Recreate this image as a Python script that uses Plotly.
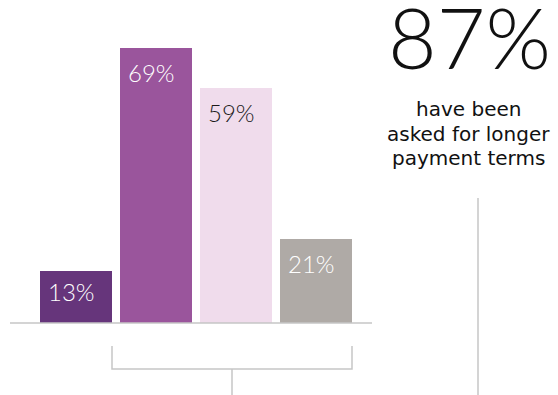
import plotly.graph_objects as go

# Survey breakdown
categories = ["A", "B", "C", "D"]
values = [13, 69, 59, 21]
labels = ["13%", "69%", "59%", "21%"]
bar_colors = ["#66357b", "#9a559c", "#f0dcec", "#afaaa6"]
label_colors = ["#ffffff", "#ffffff", "#1a1a1a", "#ffffff"]

headline = "87%"
caption_lines = ["have been", "asked for longer", "payment terms"]

W, H = 558, 395
PX_PER_UNIT_Y = 3.98
BASE_PX = 323            # baseline distance from top
X_STEP = 80              # px between bar centres
X0_PX = 76               # px of first bar centre

x_idx = list(range(len(categories)))
x_lo = -X0_PX / X_STEP
x_hi = x_lo + W / X_STEP
y_lo = -(H - BASE_PX) / PX_PER_UNIT_Y
y_hi = BASE_PX / PX_PER_UNIT_Y

FONT = "Lato"
CAPTION_FONT = "DejaVu Sans"
LINE = "#c6c6c6"

fig = go.Figure(
    go.Bar(
        x=x_idx,
        y=values,
        width=0.9,
        marker=dict(color=bar_colors, line=dict(width=0)),
        hoverinfo="skip",
    )
)

annotations = []
for i, (v, t, c) in enumerate(zip(values, labels, label_colors)):
    shift = -min(24, v * PX_PER_UNIT_Y * 0.4)
    annotations.append(dict(
        x=i - 0.45, y=v, xref="x", yref="y", text=t, showarrow=False,
        xanchor="left", yanchor="middle", xshift=6, yshift=shift,
        font=dict(family=FONT, size=24, color=c, weight=300),
    ))

annotations.append(dict(
    x=469 / W, y=1 - 36 / H, xref="paper", yref="paper", text=headline,
    showarrow=False, xanchor="center", yanchor="middle",
    font=dict(family=FONT, size=84, color="#111111", weight=300),
))
for k, line in enumerate(caption_lines):
    annotations.append(dict(
        x=468 / W, y=1 - (109 + 24.5 * k) / H, xref="paper", yref="paper",
        text=line, showarrow=False, xanchor="center", yanchor="middle",
        borderpad=0,
        font=dict(family=CAPTION_FONT, size=20, color="#111111"),
    ))

shapes = [
    # baseline
    dict(type="line", xref="paper", yref="y", x0=10 / W, x1=372 / W, y0=0, y1=0,
         line=dict(color=LINE, width=1.5)),
    # bracket under bars B-D
    dict(type="path", xref="x", yref="y",
         path=f"M 0.45 {-23 / PX_PER_UNIT_Y} L 0.45 {-46 / PX_PER_UNIT_Y} "
              f"L 3.45 {-46 / PX_PER_UNIT_Y} L 3.45 {-23 / PX_PER_UNIT_Y}",
         line=dict(color=LINE, width=1.5)),
    dict(type="line", xref="x", yref="y", x0=1.95, x1=1.95,
         y0=-46 / PX_PER_UNIT_Y, y1=y_lo,
         line=dict(color=LINE, width=1.5)),
    # divider under the headline
    dict(type="line", xref="x", yref="y", x0=(478 - X0_PX) / X_STEP, x1=(478 - X0_PX) / X_STEP,
         y0=(BASE_PX - 198) / PX_PER_UNIT_Y, y1=y_lo,
         line=dict(color=LINE, width=1.5)),
]

fig.update_layout(
    width=W, height=H,
    margin=dict(l=0, r=0, t=0, b=0),
    paper_bgcolor="white", plot_bgcolor="white",
    showlegend=False,
    xaxis=dict(range=[x_lo, x_hi], visible=False, fixedrange=True),
    yaxis=dict(range=[y_lo, y_hi], visible=False, fixedrange=True),
    annotations=annotations,
    shapes=shapes,
    bargap=0,
)

fig.write_html("out.html", config={"displayModeBar": False})
